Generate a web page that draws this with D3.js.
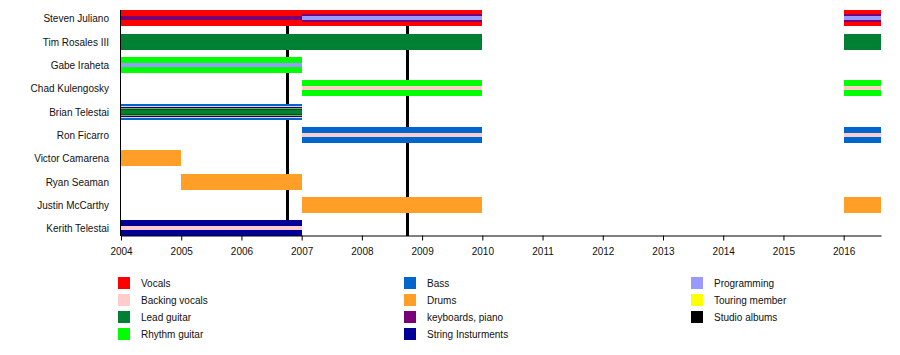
<!DOCTYPE html>
<html>
<head>
<meta charset="utf-8">
<script src="https://cdn.jsdelivr.net/npm/d3@7"></script>
<style>
  body { margin: 0; background: #fff; }
  text { font-family: "Liberation Sans", Arial, sans-serif; font-size: 10px; fill: #111; }
</style>
</head>
<body>
<div id="chart"></div>
<script>
// Band members, top to bottom
const members = ["Steven Juliano", "Tim Rosales III", "Gabe Iraheta", "Chad Kulengosky",
  "Brian Telestai", "Ron Ficarro", "Victor Camarena", "Ryan Seaman", "Justin McCarthy", "Kerith Telestai"];

// Roles (legend order) and their colours
const roles = ["Vocals", "Backing vocals", "Lead guitar", "Rhythm guitar", "Bass", "Drums",
  "keyboards, piano", "String Insturments", "Programming", "Touring member", "Studio albums"];
const roleColors = ["#ff0000", "#ffcccc", "#008033", "#00ff00", "#0066cc", "#ff9f28",
  "#780078", "#000099", "#9999ff", "#ffff00", "#000000"];

// Timeline end (mid 2016)
const endYear = 2016.62;
const years = d3.range(2004, 2017);

// Studio album release dates
const albums = [2006.76, 2008.755];

// Membership bars: member, role, start, end, layer (0 = outermost, higher = inner stripe)
const bars = [
  ["Steven Juliano", "Vocals", 2004, 2010, 0],
  ["Steven Juliano", "Vocals", 2016, endYear, 0],
  ["Steven Juliano", "keyboards, piano", 2004, 2007, 5],
  ["Steven Juliano", "keyboards, piano", 2007, 2010, 3],
  ["Steven Juliano", "keyboards, piano", 2016, endYear, 3],
  ["Steven Juliano", "Programming", 2007, 2010, 5],
  ["Steven Juliano", "Programming", 2016, endYear, 5],
  ["Tim Rosales III", "Lead guitar", 2004, 2010, 0],
  ["Tim Rosales III", "Lead guitar", 2016, endYear, 0],
  ["Gabe Iraheta", "Rhythm guitar", 2004, 2007, 0],
  ["Gabe Iraheta", "Programming", 2004, 2007, 5],
  ["Chad Kulengosky", "Rhythm guitar", 2007, 2010, 0],
  ["Chad Kulengosky", "Rhythm guitar", 2016, endYear, 0],
  ["Chad Kulengosky", "Backing vocals", 2007, 2010, 5],
  ["Chad Kulengosky", "Backing vocals", 2016, endYear, 5],
  ["Brian Telestai", "Bass", 2004, 2007, 0],
  ["Brian Telestai", "Backing vocals", 2004, 2007, 1],
  ["Brian Telestai", "String Insturments", 2004, 2007, 2],
  ["Brian Telestai", "Rhythm guitar", 2004, 2007, 3],
  ["Brian Telestai", "keyboards, piano", 2004, 2007, 4],
  ["Brian Telestai", "Lead guitar", 2004, 2007, 5],
  ["Ron Ficarro", "Bass", 2007, 2010, 0],
  ["Ron Ficarro", "Bass", 2016, endYear, 0],
  ["Ron Ficarro", "Backing vocals", 2007, 2010, 5],
  ["Ron Ficarro", "Backing vocals", 2016, endYear, 5],
  ["Victor Camarena", "Drums", 2004, 2005, 0],
  ["Ryan Seaman", "Drums", 2005, 2007, 0],
  ["Justin McCarthy", "Drums", 2007, 2010, 0],
  ["Justin McCarthy", "Drums", 2016, endYear, 0],
  ["Kerith Telestai", "String Insturments", 2004, 2007, 0],
  ["Kerith Telestai", "Backing vocals", 2004, 2007, 5]
];

const width = 900, height = 355;
const rowHeight = 16;
const layerHeights = [16, 12, 10, 8, 6, 4];

const svg = d3.select("#chart").append("svg")
  .attr("width", width)
  .attr("height", height);

const x = d3.scaleLinear().domain([2004, endYear]).range([121, 881]);
const y = d3.scalePoint().domain(members).range([18, 228]);
const color = d3.scaleOrdinal().domain(roles).range(roleColors);

const rowTop = m => Math.ceil(y(m) - rowHeight / 2 - 1e-6);
const plotTop = 10, plotBottom = rowTop(members[members.length - 1]) + rowHeight;

// Album lines (behind bars)
svg.selectAll("line.album")
  .data(albums)
  .enter()
  .append("line")
  .attr("class", "album")
  .attr("x1", d => Math.round(x(d)) + 0.5).attr("x2", d => Math.round(x(d)) + 0.5)
  .attr("y1", plotTop).attr("y2", plotBottom)
  .attr("stroke", color("Studio albums"))
  .attr("stroke-width", 3);

// Bars
svg.selectAll("rect.bar")
  .data(bars)
  .enter()
  .append("rect")
  .attr("class", "bar")
  .attr("x", d => Math.round(x(d[2])))
  .attr("width", d => Math.round(x(d[3])) - Math.round(x(d[2])))
  .attr("y", d => rowTop(d[0]) + (rowHeight - layerHeights[d[4]]) / 2)
  .attr("height", d => layerHeights[d[4]])
  .attr("fill", d => color(d[1]));

// Left axis line
svg.append("line")
  .attr("x1", x(2004) - 0.5).attr("x2", x(2004) - 0.5)
  .attr("y1", plotTop).attr("y2", plotBottom)
  .attr("stroke", "#000").attr("stroke-width", 1);

// Bottom axis
const xAxis = svg.append("g")
  .attr("transform", `translate(0,${plotBottom - 0.5})`)
  .call(d3.axisBottom(x).tickValues(years).tickFormat(d3.format("d")).tickSize(5).tickSizeOuter(0));
xAxis.select(".domain").attr("stroke", "#000");
xAxis.selectAll(".tick line").attr("stroke", "#000");
xAxis.selectAll("text")
  .attr("y", 12)
  .style("font-family", "'Liberation Sans', Arial, sans-serif")
  .style("font-size", "10px")
  .attr("fill", "#111");

// Member names
svg.selectAll("text.name")
  .data(members)
  .enter()
  .append("text")
  .attr("class", "name")
  .attr("x", 109)
  .attr("y", d => rowTop(d) + rowHeight / 2)
  .attr("dy", "0.35em")
  .attr("text-anchor", "end")
  .text(d => d);

// Legend: 3 columns of 4 rows
const legendCols = [118, 404, 691];
const legendTop = 277, legendStep = 17;
const legend = svg.selectAll("g.legend")
  .data(roles)
  .enter()
  .append("g")
  .attr("class", "legend")
  .attr("transform", (d, i) => `translate(${legendCols[Math.floor(i / 4)]},${legendTop + (i % 4) * legendStep})`);

legend.append("rect")
  .attr("width", 12)
  .attr("height", 12)
  .attr("fill", d => color(d));

legend.append("text")
  .attr("x", 23)
  .attr("y", 6)
  .attr("dy", "0.35em")
  .text(d => d);
</script>
</body>
</html>
